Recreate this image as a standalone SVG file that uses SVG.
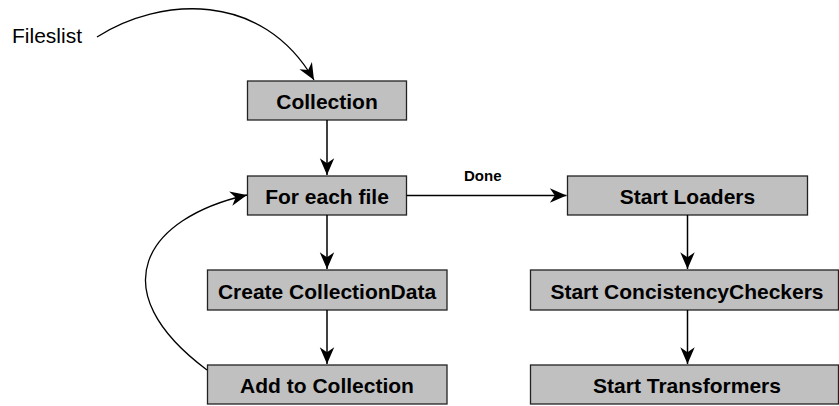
<svg xmlns="http://www.w3.org/2000/svg" width="839" height="406" viewBox="0 0 839 406">
  <style>
    .box { fill: #c0c0c0; stroke: #222; stroke-width: 1.3; }
    .lbl { font-family: "Liberation Sans", Arial, sans-serif; font-weight: bold; font-size: 21px; fill: #000; text-anchor: middle; }
    .plain { font-family: "Liberation Sans", Arial, sans-serif; font-size: 21px; fill: #000; }
    .edge-lbl { font-family: "Liberation Sans", Arial, sans-serif; font-weight: bold; font-size: 15px; fill: #000; }
    .conn { fill: none; stroke: #000; stroke-width: 1.5; marker-end: url(#arrow); }
    .curve { stroke-width: 1.3; }
  </style>
  <defs>
    <marker id="arrow" markerUnits="userSpaceOnUse" markerWidth="20" markerHeight="20" viewBox="-16 -8 18 16" refX="0" refY="0" orient="auto">
      <path d="M0,0 L-15,-6.5 L-10.5,0 L-15,6.5 Z" fill="#000"/>
    </marker>
  </defs>
  <rect width="839" height="406" fill="#fff"/>

  <text class="plain" x="12" y="43">Fileslist</text>

  <g id="collection">
    <rect class="box" x="247.5" y="81" width="159" height="39"/>
    <text class="lbl" x="327" y="109">Collection</text>
  </g>
  <g id="for-each-file">
    <rect class="box" x="247.5" y="176" width="159" height="39"/>
    <text class="lbl" x="327" y="204">For each file</text>
  </g>
  <g id="create-collectiondata">
    <rect class="box" x="207.5" y="270" width="239.5" height="40"/>
    <text class="lbl" x="327" y="298.5">Create CollectionData</text>
  </g>
  <g id="add-to-collection">
    <rect class="box" x="207.5" y="365" width="239.5" height="39"/>
    <text class="lbl" x="327" y="393">Add to Collection</text>
  </g>
  <g id="start-loaders">
    <rect class="box" x="567.5" y="176" width="240" height="39"/>
    <text class="lbl" x="687.5" y="204">Start Loaders</text>
  </g>
  <g id="start-consistency">
    <rect class="box" x="530.5" y="270" width="308" height="40"/>
    <text class="lbl" x="687" y="298.5">Start ConcistencyCheckers</text>
  </g>
  <g id="start-transformers">
    <rect class="box" x="530.5" y="365" width="308" height="39"/>
    <text class="lbl" x="687" y="393">Start Transformers</text>
  </g>

  <g id="connectors">
    <path class="conn curve" d="M97,37 C160,-3 262,-10 314,80"/>
    <path class="conn" d="M327,120 L327,175"/>
    <path class="conn" d="M327,215 L327,269"/>
    <path class="conn" d="M327,310 L327,364"/>
    <path class="conn curve" d="M207,370 C100,290 145,218 247,195"/>
    <path class="conn" d="M406.5,195.5 L566.5,195.5"/>
    <text class="edge-lbl" x="464" y="181">Done</text>
    <path class="conn" d="M687.5,215 L687.5,269"/>
    <path class="conn" d="M687.5,310 L687.5,364"/>
  </g>
</svg>
